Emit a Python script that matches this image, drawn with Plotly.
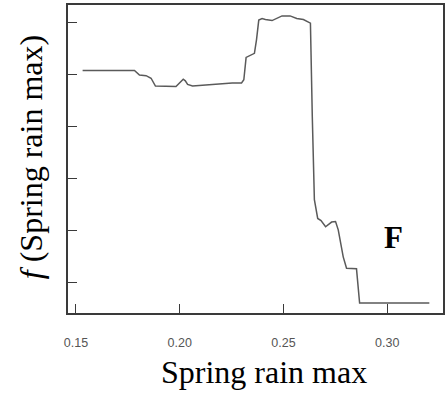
import plotly.graph_objects as go

# Partial dependence curve
x_vals = [0.1532, 0.1782, 0.1806, 0.1838, 0.1862, 0.1883, 0.1982, 0.1998, 0.2017, 0.2027,
          0.2038, 0.2062, 0.2157, 0.2253, 0.2298, 0.2309, 0.2320, 0.2346, 0.2360, 0.2370,
          0.2381, 0.2397, 0.2413, 0.2445, 0.2469, 0.2493, 0.2532, 0.2564, 0.2596, 0.2630,
          0.2639, 0.2649, 0.2665, 0.2681, 0.2703, 0.2732, 0.2751, 0.2764, 0.2788, 0.2804,
          0.2852, 0.2867, 0.3203]
y_vals = [4.08, 4.08, 3.99, 3.98, 3.93, 3.78, 3.77, 3.83, 3.91, 3.88,
          3.81, 3.78, 3.81, 3.84, 3.84, 3.90, 4.33, 4.38, 4.41, 4.67,
          5.05, 5.08, 5.06, 5.04, 5.08, 5.13, 5.13, 5.08, 5.06, 4.99,
          3.19, 1.59, 1.23, 1.19, 1.07, 1.16, 1.17, 1.01, 0.49, 0.27,
          0.26, -0.40, -0.40]

x_ticks = [0.15, 0.20, 0.25, 0.30]
x_tick_labels = ["0.15", "0.20", "0.25", "0.30"]
y_ticks = [0, 1, 2, 3, 4, 5]

fig = go.Figure()
fig.add_trace(go.Scatter(x=x_vals, y=y_vals, mode="lines",
                         line=dict(color="#5a5a5a", width=1.5),
                         hoverinfo="skip", showlegend=False))

axis_color = "#3a3a3a"
fig.update_xaxes(range=[0.14616, 0.32689], tickvals=x_ticks, ticktext=x_tick_labels,
                 ticks="inside", ticklen=9, tickwidth=1, tickcolor=axis_color,
                 showline=True, linecolor=axis_color, linewidth=1.5, mirror=True,
                 showgrid=False, zeroline=False,
                 tickfont=dict(family="Arial, Liberation Sans", size=12.5, color="#555555"),
                 ticklabelstandoff=17)
fig.update_yaxes(range=[-0.591, 5.340], tickvals=y_ticks, showticklabels=False,
                 ticks="inside", ticklen=9, tickwidth=1, tickcolor=axis_color,
                 showline=True, linecolor=axis_color, linewidth=1.5, mirror=True,
                 showgrid=False, zeroline=False)

serif = "Liberation Serif, Times New Roman, serif"
fig.add_annotation(text="Spring rain max", xref="paper", yref="paper",
                   x=(265 - 68) / 377, y=(313 - 372) / 308, showarrow=False,
                   font=dict(family=serif, size=32, color="black"),
                   xanchor="center", yanchor="middle")
fig.add_annotation(text="<i>f</i> (Spring rain max)", xref="paper", yref="paper",
                   x=(31 - 68) / 377, y=(313 - 157) / 308, showarrow=False, textangle=-90,
                   font=dict(family=serif, size=32, color="black"),
                   xanchor="center", yanchor="middle")
fig.add_annotation(text="<b>F</b>", xref="paper", yref="paper",
                   x=(395 - 68) / 377, y=(313 - 237) / 308, showarrow=False,
                   font=dict(family=serif, size=31, color="black"),
                   xanchor="center", yanchor="middle")

fig.update_layout(width=445, height=397, margin=dict(l=68, r=0, t=5, b=84),
                  plot_bgcolor="white", paper_bgcolor="white")
fig.write_html("out.html")
